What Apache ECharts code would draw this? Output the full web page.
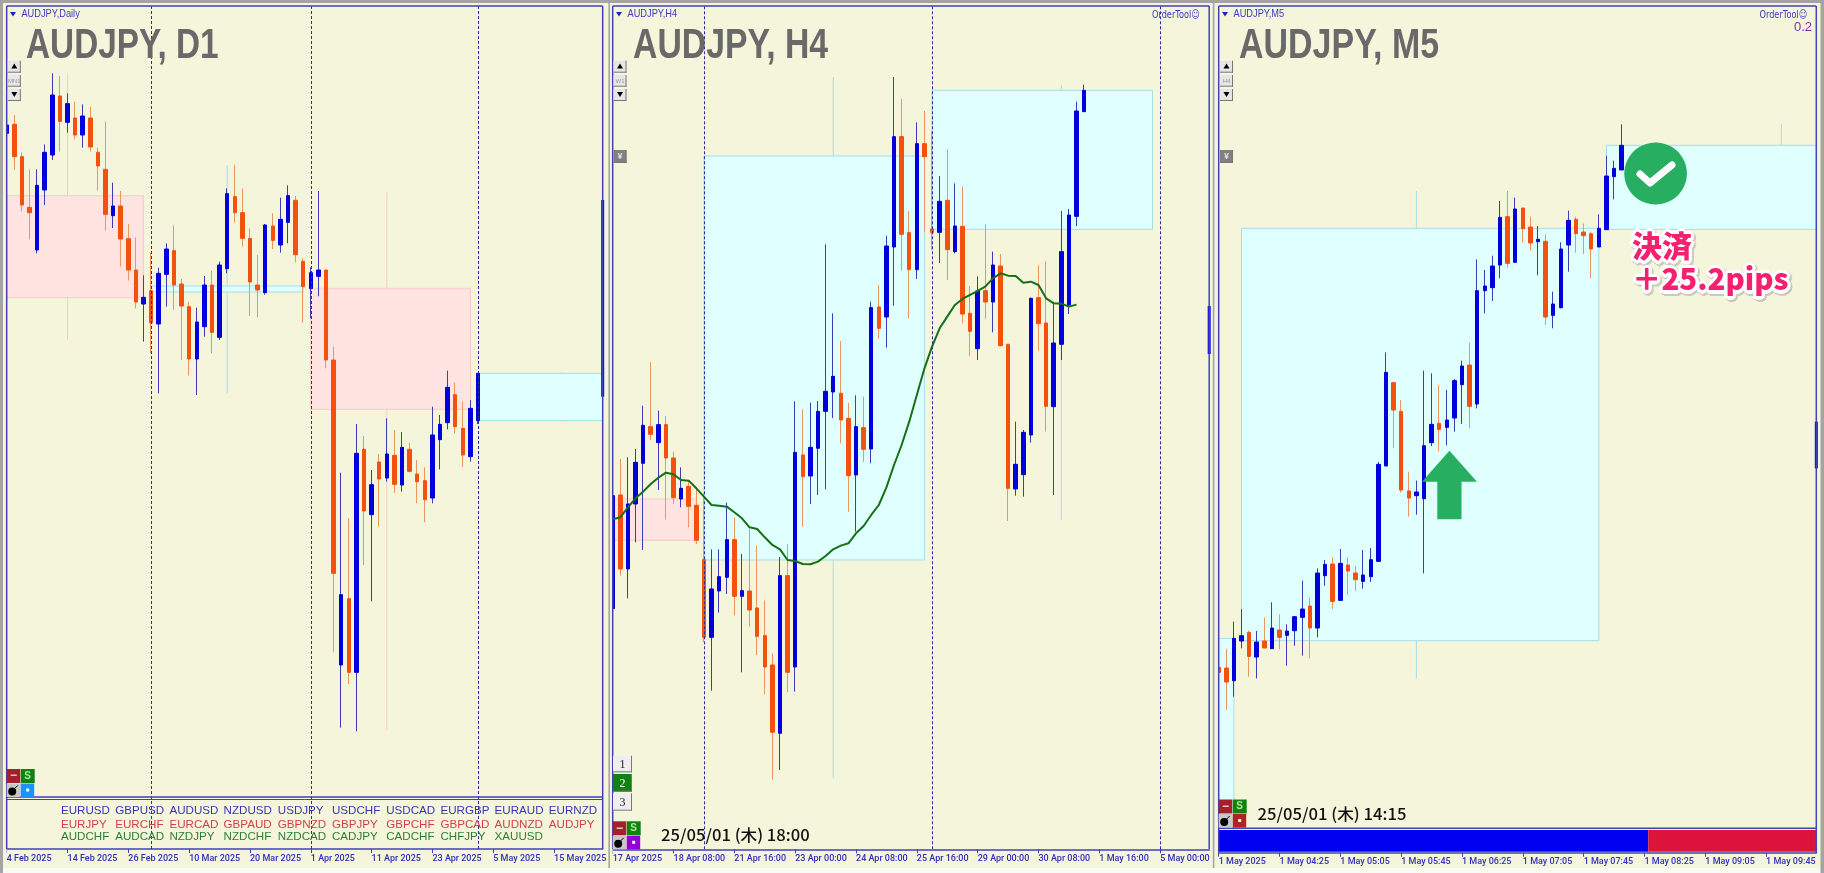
<!DOCTYPE html>
<html>
<head>
<meta charset="utf-8">
<title>AUDJPY</title>
<style>html,body{margin:0;padding:0;background:#f5f5dc}#main{width:1824px;height:873px}</style>
<script src="https://cdn.jsdelivr.net/npm/echarts@6/dist/echarts.min.js"></script>
</head>
<body>
<div id="main"></div>
<script>
// no price scale is visible in the screenshot, so prices are on a hidden relative scale

// [open, close, low, high]
var d1Bars = [
  [96.00,96.25,94.70,96.80],[96.27,95.30,94.90,96.55],[95.30,93.85,93.65,95.43],[93.78,93.62,92.83,94.92],
  [92.50,94.44,92.40,94.92],[94.30,95.43,93.85,95.67],[95.35,97.15,95.20,97.80],[97.12,96.36,95.45,97.72],
  [96.33,96.89,96.02,97.20],[96.46,95.95,95.82,96.95],[95.95,96.52,95.57,96.87],[96.46,95.59,95.45,96.80],
  [95.43,95.02,94.28,95.57],[94.92,93.57,93.08,96.35],[93.53,93.82,93.16,94.52],[93.82,92.83,92.00,94.27],
  [92.84,91.90,91.58,93.28],[91.90,90.94,90.75,92.88],[90.88,91.08,89.75,91.74],[91.28,90.32,89.40,92.43],
  [90.28,91.80,88.20,91.97],[91.77,92.53,90.80,92.70],[92.48,91.45,90.70,93.24],[91.48,90.82,89.20,91.63],
  [90.80,89.23,88.73,90.95],[89.23,90.34,88.15,90.77],[90.20,91.45,89.90,91.72],[91.45,90.03,89.40,91.88],
  [89.88,92.05,89.80,92.15],[91.94,94.19,91.80,94.35],[94.10,93.62,93.32,95.05],[93.62,92.85,92.60,94.35],
  [92.85,91.54,90.52,93.15],[91.45,91.30,90.48,92.35],[91.22,93.25,91.16,93.28],[93.22,92.79,92.53,93.60],
  [92.65,93.42,92.42,94.07],[93.33,94.13,92.70,94.44],[93.99,92.36,92.13,94.12],[92.16,91.40,90.32,92.25],
  [91.34,91.82,90.45,91.98],[91.71,91.90,91.11,94.27],[91.90,89.20,88.95,91.90],[89.20,82.80,80.43,89.60],
  [80.05,82.16,78.17,85.82],[82.04,79.83,79.48,84.45],[79.83,86.40,78.06,87.28],[86.52,84.67,83.05,86.92],
  [84.56,85.46,81.96,85.90],[86.14,85.63,84.20,86.38],[85.66,86.38,85.55,87.45],[86.34,85.47,85.22,87.10],
  [85.45,86.58,85.25,87.04],[86.52,85.86,85.83,86.72],[85.78,85.55,84.90,86.20],[85.58,85.01,84.33,85.98],
  [85.06,86.95,84.90,87.80],[86.81,87.27,85.92,87.55],[87.32,88.38,87.12,88.88],[88.16,87.20,87.00,88.52],
  [87.15,86.35,85.98,87.95],[86.30,87.75,86.15,88.00],[87.38,88.80,87.28,88.80]
];
var h4Bars = [
  [81.74,85.13,80.83,85.72],[85.15,82.93,82.73,86.23],[82.93,84.88,82.05,86.28],[84.88,86.13,83.73,86.53],
  [86.10,87.24,83.50,87.83],[87.20,86.97,86.80,89.14],[86.72,87.26,85.30,87.68],[87.26,86.26,84.42,87.52],
  [86.26,85.07,84.88,86.45],[85.03,85.35,84.78,85.98],[85.41,84.81,84.18,85.60],[84.84,83.79,83.68,85.35],
  [83.21,80.88,80.73,85.20],[80.88,82.33,79.28,83.52],[82.27,82.70,81.62,83.52],[82.68,83.81,82.18,84.92],
  [83.81,82.11,81.53,84.48],[82.11,82.28,79.83,83.38],[82.27,81.70,81.20,84.15],[81.76,80.91,80.34,83.63],
  [80.93,79.99,79.17,81.99],[80.05,78.03,76.61,80.40],[78.00,82.73,76.90,83.29],[82.73,79.83,79.23,83.67],
  [79.99,86.43,79.25,87.96],[86.35,85.70,84.20,87.72],[85.72,86.58,84.88,87.92],[86.55,87.66,85.15,87.97],
  [87.66,88.26,85.32,92.67],[88.24,88.71,87.46,90.60],[88.20,87.40,86.70,89.77],[87.45,85.73,84.65,87.91],
  [85.75,87.20,84.05,88.14],[87.17,86.52,86.14,88.10],[86.53,90.77,86.10,90.95],[90.79,90.15,89.83,91.45],
  [90.49,92.62,89.57,92.93],[92.59,95.90,90.83,97.69],[95.90,92.97,91.89,97.04],[93.02,91.91,90.45,93.67],
  [91.91,95.69,91.63,96.33],[95.69,95.30,93.03,96.67],[93.13,93.03,92.50,96.08],[93.03,93.96,92.11,94.72],
  [93.99,92.51,91.60,95.52],[92.45,93.22,92.40,94.50],[93.21,90.58,90.30,94.41],[90.60,90.06,89.31,91.42],
  [89.54,91.27,89.20,91.71],[91.28,90.94,90.43,93.27],[90.94,92.05,90.03,92.45],[92.02,89.63,89.60,92.38],
  [89.67,85.35,84.37,89.67],[85.33,86.07,85.13,87.35],[85.76,87.03,85.10,87.10],[86.95,91.05,86.72,91.07],
  [91.07,90.29,89.48,92.05],[90.31,87.81,87.05,92.16],[87.80,89.71,85.15,90.95],[89.67,92.45,89.20,93.67],
  [90.85,93.55,90.58,93.73],[93.51,96.67,93.22,96.95],[96.65,97.29,96.65,97.46]
];
var m5Bars = [
  [79.98,79.83,79.25,80.40],[79.96,79.54,78.70,80.53],[79.58,80.85,79.10,81.35],[80.77,80.93,80.55,81.73],
  [81.03,80.31,79.70,81.08],[80.29,80.74,79.65,81.07],[80.77,80.56,80.56,81.48],[80.54,81.16,80.54,81.93],
  [81.10,80.88,80.52,81.57],[80.94,81.07,80.03,81.27],[81.08,81.50,80.63,81.52],[81.48,81.73,80.33,82.58],
  [81.82,81.16,80.25,82.08],[81.16,82.81,80.88,82.95],[82.73,83.07,82.43,83.20],[83.08,81.96,81.73,83.28],
  [81.99,83.10,81.99,83.53],[83.05,82.87,82.15,83.28],[82.81,82.61,82.28,83.02],[82.56,82.75,82.34,83.50],
  [82.70,83.21,82.54,83.56],[83.16,86.07,83.16,86.14],[86.02,88.83,86.02,89.43],[88.52,87.70,86.55,88.52],
  [87.66,85.30,85.22,88.00],[85.27,85.06,84.50,85.85],[85.13,85.24,84.56,85.58],[85.04,86.63,82.80,88.88],
  [86.72,87.27,86.62,88.80],[87.30,87.12,86.45,88.45],[87.18,87.40,86.64,88.30],[87.46,88.58,87.05,88.63],
  [88.46,89.02,87.28,89.18],[89.05,87.81,87.15,89.73],[87.88,91.28,87.75,92.22],[91.28,91.42,90.60,91.90],
  [91.37,92.02,90.97,92.33],[92.05,93.48,91.65,93.97],[93.50,92.10,91.97,94.27],[92.13,93.73,92.13,94.07],
  [93.76,93.14,92.72,93.76],[93.19,92.71,92.48,93.50],[92.75,92.82,91.74,93.22],[92.76,90.49,90.25,92.97],
  [90.54,90.88,90.15,91.25],[90.77,92.53,90.75,92.73],[92.65,93.39,91.85,93.68],[93.42,92.99,92.42,93.50],
  [93.04,92.93,92.38,93.30],[92.99,92.53,91.65,93.05],[92.59,93.15,92.59,93.57],[93.11,94.72,93.11,95.33],
  [94.70,94.95,94.02,95.18],[94.90,95.64,94.90,96.27]
];

// higher timeframe candle behind each chart: [startBar, endBar, open, close, low, high, wickBar]
var d1Boxes = [
  [0,18,94.13,91.07,89.80,97.78,8],[19,39,91.24,91.42,88.20,95.05,29],
  [40,61,91.35,87.72,78.10,94.23,50],[62,78.4,87.38,88.80,87.35,88.83,73]
];
var h4Boxes = [
  [0,11,85.03,83.79,83.79,85.03,5],[12,41,83.20,95.32,76.65,97.69,29],[42,71,93.12,97.29,84.40,97.46,59]
];
var m5Boxes = [
  [0,2,74.55,80.85,74.55,80.85,1],[3,50,80.78,93.15,79.65,94.27,26],[51,78.6,93.12,95.64,93.12,96.27,74]
];
// bar at the far right edge of each chart: [bar, bottom, top]
var d1Edge = [[78.4,88.10,94.00]];
var h4Edge = [[78.45,89.38,90.82]];
var m5Edge = [[78.6,85.95,87.35]];
// strength strip under the M5 chart
var m5Strip = [[0,56.5,74.45,75.10,74.45,75.10,0],[56.5,78.6,75.10,74.45,74.45,75.10,56.5]];

var h4Ma = [
  84.42,84.48,84.78,85.05,85.25,85.48,85.67,85.82,85.77,85.60,85.58,85.35,85.10,84.85,84.83,84.80,
  84.63,84.45,84.18,84.13,83.88,83.65,83.52,83.20,83.17,83.08,83.07,83.15,83.32,83.52,83.63,83.70,
  84.00,84.22,84.55,84.85,85.38,86.05,86.65,87.35,88.15,88.95,89.60,90.15,90.50,90.85,91.03,91.15,
  91.27,91.40,91.65,91.80,91.73,91.72,91.52,91.55,91.45,91.05,90.90,90.89,90.80,90.86
];

var d1Seps = [19, 40, 62];
var h4Seps = [12, 42, 72];

var d1Ticks = ['4 Feb 2025','14 Feb 2025','26 Feb 2025','10 Mar 2025','20 Mar 2025','1 Apr 2025','11 Apr 2025','23 Apr 2025','5 May 2025','15 May 2025'];
var h4Ticks = ['17 Apr 2025','18 Apr 08:00','21 Apr 16:00','23 Apr 00:00','24 Apr 08:00','25 Apr 16:00','29 Apr 00:00','30 Apr 08:00','1 May 16:00','5 May 00:00'];
var m5Ticks = ['1 May 2025','1 May 04:25','1 May 05:05','1 May 05:45','1 May 06:25','1 May 07:05','1 May 07:45','1 May 08:25','1 May 09:05','1 May 09:45'];

var symbolsMajor = ['EURUSD','GBPUSD','AUDUSD','NZDUSD','USDJPY','USDCHF','USDCAD','EURGBP','EURAUD','EURNZD'];
var symbolsCross = ['EURJPY','EURCHF','EURCAD','GBPAUD','GBPNZD','GBPJPY','GBPCHF','GBPCAD','AUDNZD','AUDJPY'];
var symbolsMinor = ['AUDCHF','AUDCAD','NZDJPY','NZDCHF','NZDCAD','CADJPY','CADCHF','CHFJPY','XAUUSD'];

var BLUE = '#0000dc', ORANGE = '#f4500f', BLUE_WICK = '#3c3cb4', ORANGE_WICK = '#e9975f';
var NAVY = '#4040b8', BG = '#f5f5dc';

var panels = [
  { left: 6.7, right: 602.7, top: 6, bottom: 849, xMax: 78.4, yMin: 74.53, bars: d1Bars, boxes: d1Boxes, edge: d1Edge, ticks: d1Ticks, seps: d1Seps },
  { left: 612.7, right: 1209.2, top: 6, bottom: 849.3, xMax: 78.45, yMin: 74.52, bars: h4Bars, boxes: h4Boxes, edge: h4Edge, ticks: h4Ticks, seps: h4Seps },
  { left: 1218.7, right: 1816.3, top: 6, bottom: 852.7, xMax: 78.6, yMin: 74.42, bars: m5Bars, boxes: m5Boxes, edge: m5Edge, ticks: m5Ticks, seps: [] }
];

var chart = echarts.init(document.getElementById('main'), null, { renderer: 'canvas' });

function renderBox(params, api) {
  var start = api.coord([api.value(0), 0])[0];
  var end = api.coord([api.value(1), 0])[0];
  var wick = api.coord([api.value(6), 0])[0];
  var open = api.coord([0, api.value(2)])[1];
  var close = api.coord([0, api.value(3)])[1];
  var low = api.coord([0, api.value(4)])[1];
  var high = api.coord([0, api.value(5)])[1];
  var bull = api.value(3) >= api.value(2);
  var fill = bull ? '#e0ffff' : '#ffe4e1';
  var line = bull ? '#a6dde8' : '#ffc9c6';
  var top = Math.min(open, close), bottom = Math.max(open, close);
  return {
    type: 'group',
    children: [
      { type: 'rect', shape: { x: start, y: top, width: end - start, height: bottom - top }, style: { fill: fill, stroke: line, lineWidth: 1 } },
      { type: 'line', shape: { x1: wick, y1: high, x2: wick, y2: top }, style: { stroke: line, lineWidth: 1 } },
      { type: 'line', shape: { x1: wick, y1: bottom, x2: wick, y2: low }, style: { stroke: line, lineWidth: 1 } }
    ]
  };
}

function renderStrip(params, api) {
  var start = api.coord([api.value(0), 0])[0];
  var end = api.coord([api.value(1), 0])[0];
  var top = api.coord([0, api.value(5)])[1];
  var bottom = api.coord([0, api.value(4)])[1];
  return {
    type: 'rect',
    shape: { x: start, y: top, width: end - start, height: bottom - top },
    style: { fill: api.value(3) >= api.value(2) ? '#0000f0' : '#dc143c' }
  };
}

function renderEdge(params, api) {
  var x = api.coord([api.value(0), 0])[0];
  var bottom = api.coord([0, api.value(1)])[1];
  var top = api.coord([0, api.value(2)])[1];
  return { type: 'rect', shape: { x: x - 1.5, y: top, width: 3, height: bottom - top }, style: { fill: BLUE } };
}

var grids = [], xAxes = [], yAxes = [], series = [];
panels.forEach(function (p, n) {
  grids.push({ left: p.left, top: p.top, width: p.right - p.left, height: p.bottom - p.top });
  xAxes.push({
    type: 'value', gridIndex: n, min: 0, max: p.xMax, interval: 8,
    splitLine: { show: false },
    axisLine: { onZero: false, lineStyle: { color: NAVY, width: 1.5 } },
    axisTick: { length: 4, lineStyle: { color: NAVY } },
    axisLabel: {
      align: 'left', margin: 5, color: '#3030bc', fontSize: 9, fontWeight: 500,
      fontFamily: 'Roboto,"Liberation Sans",sans-serif',
      showMinLabel: true, showMaxLabel: false,
      formatter: function (v) { return p.ticks[v / 8] || ''; }
    }
  });
  yAxes.push({ type: 'value', gridIndex: n, show: false, min: p.yMin, max: 99.82, scale: true, splitLine: { show: false } });

  series.push({
    type: 'custom', xAxisIndex: n, yAxisIndex: n, z: 1, clip: true, silent: true,
    renderItem: renderBox, encode: { x: [0, 1, 6], y: [2, 3, 4, 5] }, data: p.boxes,
    markLine: {
      silent: true, symbol: 'none', animation: false, label: { show: false },
      lineStyle: { color: '#2c2ca0', type: [3, 2], width: 1 },
      data: p.seps.map(function (s) { return { xAxis: s }; })
    }
  });
  // wicks first, bodies on top, so the thin lines can have their own paler colour
  series.push({
    type: 'candlestick', xAxisIndex: n, yAxisIndex: n, z: 2, barWidth: 1, silent: true,
    encode: { x: 0, y: [1, 2, 3, 4] },
    itemStyle: { borderWidth: 1 },
    data: p.bars.map(function (r, i) {
      var c = r[1] >= r[0] ? BLUE_WICK : ORANGE_WICK;
      return {
        value: [i, r[2], r[2], r[2], r[3]],
        itemStyle: { color: c, color0: c, borderColor: c, borderColor0: c, borderColorDoji: c }
      };
    })
  });
  series.push({
    type: 'candlestick', xAxisIndex: n, yAxisIndex: n, z: 3, barWidth: 4, silent: true,
    encode: { x: 0, y: [1, 2, 3, 4] },
    itemStyle: { color: BLUE, color0: ORANGE, borderColor: BLUE, borderColor0: ORANGE, borderWidth: 1 },
    data: p.bars.map(function (r, i) {
      return [i, r[0], r[1], Math.min(r[0], r[1]), Math.max(r[0], r[1])];
    })
  });
  series.push({
    type: 'custom', xAxisIndex: n, yAxisIndex: n, z: 4, clip: false, silent: true,
    renderItem: renderEdge, encode: { x: 0, y: [1, 2] }, data: p.edge
  });
});

series.push({
  type: 'line', xAxisIndex: 1, yAxisIndex: 1, z: 5, showSymbol: false, smooth: false, silent: true,
  lineStyle: { color: '#157015', width: 2 },
  data: h4Ma.map(function (v, i) { return [i, v]; })
});
series.push({
  type: 'custom', xAxisIndex: 2, yAxisIndex: 2, z: 1, silent: true,
  renderItem: renderStrip, encode: { x: [0, 1], y: [2, 3, 4, 5] }, data: m5Strip
});

// window furniture below, none of this is data
var g = [];
function rect(x, y, w, h, fill, stroke, z) {
  g.push({ type: 'rect', z: z || 10, silent: true, shape: { x: x, y: y, width: w, height: h }, style: { fill: fill || 'none', stroke: stroke || 'none', lineWidth: 1.5 } });
}
function text(x, y, s, font, fill, opt) {
  var el = { type: 'text', z: 12, silent: true, x: x, y: y, style: { text: s, font: font, fill: fill, verticalAlign: 'middle', align: 'left' } };
  opt = opt || {};
  if (opt.z) el.z = opt.z;
  if (opt.scaleX) el.scaleX = opt.scaleX;
  if (opt.align) el.style.align = opt.align;
  g.push(el);
}
function button(x, y, w, h, fill, s, color, font) {
  rect(x, y, w, h, fill);
  g.push({ type: 'line', z: 11, silent: true, shape: { x1: x, y1: y + h - 0.5, x2: x + w, y2: y + h - 0.5 }, style: { stroke: '#777', lineWidth: 1 } });
  g.push({ type: 'line', z: 11, silent: true, shape: { x1: x + w - 0.5, y1: y, x2: x + w - 0.5, y2: y + h }, style: { stroke: '#777', lineWidth: 1 } });
  if (s) text(x + w / 2, y + h / 2 + 0.5, s, font || '9px "Liberation Sans"', color || '#000', { align: 'center' });
}
function tri(x, y, w, h, down, fill) {
  g.push({ type: 'polygon', z: 12, silent: true, shape: { points: down ? [[x, y], [x + w, y], [x + w / 2, y + h]] : [[x, y + h], [x + w, y + h], [x + w / 2, y]] }, style: { fill: fill } });
}
function bomb(x, y) {
  rect(x, y, 13.5, 13.5, '#c8c8c8');
  g.push({ type: 'circle', z: 12, silent: true, shape: { cx: x + 5.5, cy: y + 8, r: 4 }, style: { fill: '#000' } });
  g.push({ type: 'line', z: 12, silent: true, shape: { x1: x + 8, y1: y + 5, x2: x + 11, y2: y + 2 }, style: { stroke: '#000', lineWidth: 1 } });
}
function corner(x, y, dotFill, dotColor) {
  rect(x, y, 13.5, 14, '#a5202c');
  text(x + 6.7, y + 7, '−', 'bold 12px "Liberation Sans"', '#f2d0d0', { align: 'center' });
  rect(x + 14, y, 14, 14, '#0f820f');
  text(x + 21, y + 7, 'S', 'bold 10px "Liberation Sans"', '#a8e890', { align: 'center' });
  bomb(x, y + 14.5);
  rect(x + 14, y + 14.5, 13.5, 13.5, dotFill);
  rect(x + 19.5, y + 19.5, 3, 3, dotColor);
}
function stepper(x, label) {
  button(x, 60.7, 13, 12, '#e6e6e6');
  tri(x + 3.5, 63.5, 6, 5, false, '#000');
  button(x, 75, 13, 11.7, '#e6e6e6', label, '#999', '6px "Liberation Sans"');
  button(x, 89, 13, 12, '#e6e6e6');
  tri(x + 3.5, 92, 6, 5, true, '#000');
}
function rabbit(x) {
  button(x, 150, 13, 13, '#808080', '¥', '#e8e8e8', 'bold 9px "Liberation Sans"');
}
// white sticker outline with a soft grey edge, offset copies of the text
function sticker(x, y, s, font, scaleX) {
  var a, ang;
  for (a = 0; a < 12; a++) {
    ang = a / 12 * Math.PI * 2;
    text(x + 1.5 + Math.cos(ang) * 3.6, y + 1.5 + Math.sin(ang) * 3.6, s, font, '#c9c9bc', { z: 22, scaleX: scaleX });
  }
  for (a = 0; a < 12; a++) {
    ang = a / 12 * Math.PI * 2;
    text(x + Math.cos(ang) * 3.2, y + Math.sin(ang) * 3.2, s, font, '#ffffff', { z: 23, scaleX: scaleX });
  }
  text(x, y, s, font, '#f5206e', { z: 24, scaleX: scaleX });
}

// candle bodies at bar 0 spill left of the frame, cover that with window background
rect(3, 3, 3.7, 850, BG);
rect(610, 3, 2.7, 850, BG);
rect(1214.4, 3, 4.3, 850, BG);

// bottom strip and grey window edges
rect(0, 868, 1824, 5, '#fafaf4');
rect(0, 0, 1824, 3, '#a4a4a4');
rect(0, 0, 3, 873, '#a4a4a4');
rect(608.4, 0, 1.6, 868, '#a4a4a4');
rect(1212.8, 0, 1.6, 868, '#a4a4a4');
rect(1820.5, 0, 3.5, 873, '#a4a4a4');

panels.forEach(function (p) {
  g.push({ type: 'line', z: 10, silent: true, shape: { x1: p.left, y1: p.top, x2: p.right, y2: p.top }, style: { stroke: NAVY, lineWidth: 1.5 } });
  g.push({ type: 'line', z: 10, silent: true, shape: { x1: p.left, y1: p.top, x2: p.left, y2: p.bottom }, style: { stroke: NAVY, lineWidth: 1.5 } });
  g.push({ type: 'line', z: 10, silent: true, shape: { x1: p.right, y1: p.top, x2: p.right, y2: p.bottom }, style: { stroke: NAVY, lineWidth: 1.5 } });
});
// D1 symbol panel and M5 strip divider
g.push({ type: 'line', z: 10, silent: true, shape: { x1: 6.7, y1: 797, x2: 602.7, y2: 797 }, style: { stroke: NAVY, lineWidth: 1.5 } });
g.push({ type: 'line', z: 10, silent: true, shape: { x1: 6.7, y1: 799.5, x2: 602.7, y2: 799.5 }, style: { stroke: NAVY, lineWidth: 1 } });
g.push({ type: 'line', z: 10, silent: true, shape: { x1: 1218.7, y1: 828.2, x2: 1816.3, y2: 828.2 }, style: { stroke: NAVY, lineWidth: 1.5 } });

var titleFont = 'bold 43px "Liberation Sans"';
text(26, 46, 'AUDJPY, D1', titleFont, '#696969', { scaleX: 0.775 });
text(633, 46, 'AUDJPY, H4', titleFont, '#696969', { scaleX: 0.785 });
text(1239, 46, 'AUDJPY, M5', titleFont, '#696969', { scaleX: 0.79 });

var smallFont = '10.5px "Liberation Sans"';
tri(10, 12, 6, 4.5, true, '#2020c0');
text(21.4, 14.5, 'AUDJPY,Daily', smallFont, '#3a3ac4', { scaleX: 0.88 });
tri(616, 12, 6, 4.5, true, '#2020c0');
text(627.5, 14.5, 'AUDJPY,H4', smallFont, '#3a3ac4', { scaleX: 0.88 });
tri(1222, 12, 6, 4.5, true, '#2020c0');
text(1233.5, 14.5, 'AUDJPY,M5', smallFont, '#3a3ac4', { scaleX: 0.88 });
text(1152, 15, 'OrderTool☺', '10.5px "DejaVu Sans"', '#3a3ac4', { scaleX: 0.78 });
text(1759.5, 15, 'OrderTool☺', '10.5px "DejaVu Sans"', '#3a3ac4', { scaleX: 0.78 });
text(1794, 27.5, '0.2', '13px "Liberation Sans"', '#8a2bb8', {});

stepper(7.8, 'MN1');
stepper(613.5, 'W1');
stepper(1220, 'H4');
rabbit(613.5);
rabbit(1220);

corner(6.7, 769, '#1e90ff', '#fff');
corner(612.7, 821.3, '#9400d3', '#fff');
corner(1218.7, 799.5, '#b22222', '#fff');

button(613, 755.7, 19, 16.6, '#eeeeee', '1', '#222', '12px "Liberation Serif"');
button(613, 774, 19, 17.7, '#0f820f', '2', '#fff', '12px "Liberation Serif"');
button(613, 793.3, 19, 17.4, '#eeeeee', '3', '#222', '12px "Liberation Serif"');

var dateFont = '500 16px "Noto Sans CJK JP"';
text(661, 835, '25/05/01 (木) 18:00', dateFont, '#111', { scaleX: 1.04 });
text(1257.6, 813.7, '25/05/01 (木) 14:15', dateFont, '#111', { scaleX: 1.04 });

var symbolFont = '11.6px "Liberation Sans"';
[[symbolsMajor, 811, '#3636b4'], [symbolsCross, 824.3, '#d0404e'], [symbolsMinor, 836.7, '#2e7d32']].forEach(function (row) {
  row[0].forEach(function (s, i) {
    text(61 + i * 54.2, row[1], s, symbolFont, row[2], { scaleX: 1 });
  });
});

// exit marker, arrow and pips note on the M5 chart
g.push({ type: 'ellipse', z: 20, silent: true, shape: { cx: 1655.6, cy: 173.5, rx: 31.3, ry: 31 }, style: { fill: '#27ae60' } });
g.push({ type: 'polyline', z: 21, silent: true, shape: { points: [[1640, 174], [1650, 183], [1672, 165]] }, style: { stroke: '#fff', lineWidth: 7, lineCap: 'round', lineJoin: 'round', fill: 'none' } });
g.push({
  type: 'polygon', z: 20, silent: true,
  shape: { points: [[1449.4, 450.7], [1477, 481.7], [1461.5, 481.7], [1461.5, 519.3], [1437.3, 519.3], [1437.3, 481.7], [1422, 481.7]] },
  style: { fill: '#27ae60' }
});
var noteFont = '900 30px "Noto Sans CJK JP"';
sticker(1632, 246, '決済', noteFont, 1);
sticker(1632, 279, '＋25.2pips', noteFont, 0.98);

chart.setOption({
  animation: false,
  backgroundColor: BG,
  tooltip: { show: false },
  grid: grids,
  xAxis: xAxes,
  yAxis: yAxes,
  series: series,
  graphic: { elements: g }
});

window.addEventListener('resize', chart.resize);
</script>
</body>
</html>
